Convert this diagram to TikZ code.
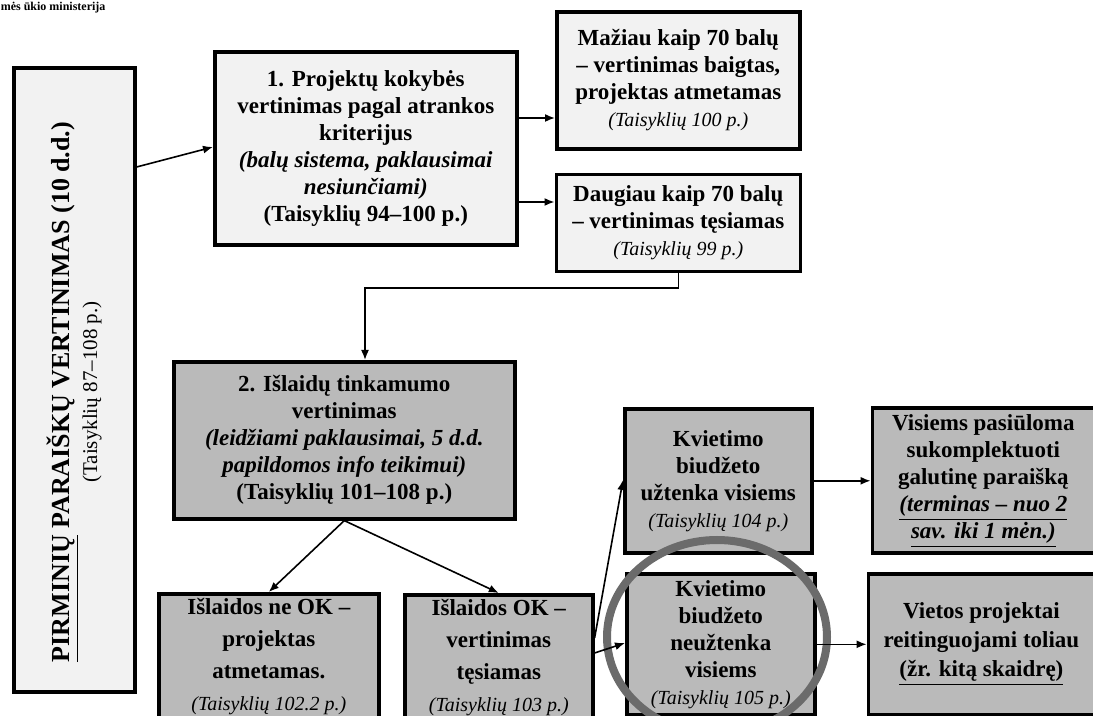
\documentclass[tikz,border=0pt]{standalone}
\usepackage{fontspec}
\setmainfont{Liberation Serif}
\usetikzlibrary{positioning,shapes.geometric,arrows.meta}
\newcommand{\ts}[1]{{\normalfont\itshape\fontsize{10}{12}\selectfont #1}}
\tikzset{
  lt/.style={rectangle, draw=black, line width=1.8pt, fill=black!5, align=center, inner sep=2pt, font=\bfseries\fontsize{11.5}{13.5}\selectfont},
  dk/.style={lt, fill=black!27},
  ring/.style={ellipse, draw=black!58, line width=4pt, minimum width=110pt, minimum height=97pt},
  node distance=11pt
}
\begin{document}
\begin{tikzpicture}[x=0.5pt, y=-0.5pt, thick, >={Latex[length=5pt,width=4pt]}]
	\path[use as bounding box, clip] (0,0) rectangle (1093,716);
	\node[anchor=north west, inner sep=0pt, font=\bfseries\fontsize{6}{7}\selectfont] (logo) at (0,1) {mės ūkio ministerija};
	\node[lt, anchor=north west, minimum width=60.5pt, minimum height=312pt] (main) at (12,66) {};
	\node[rotate=90, align=center] (mtext) at (74,392) {{\bfseries\fontsize{13}{14}\selectfont \underline{PIRMINIŲ} PARAIŠKŲ VERTINIMAS (10 d.d.)}\\[1pt] {\fontsize{10.5}{12}\selectfont (Taisyklių 87--108 p.)}};
	\node[lt, anchor=north west, minimum width=151pt, minimum height=96.5pt] (q1) at (213,50) {1. Projektų kokybės\\ vertinimas pagal atrankos\\ kriterijus\\ \textit{(balų sistema, paklausimai}\\ \textit{nesiunčiami)}\\ (Taisyklių 94--100 p.)};
	\node[lt, anchor=north west, minimum width=121.5pt, minimum height=68.5pt] (less) at (555,10) {Mažiau kaip 70 balų\\ -- vertinimas baigtas,\\ projektas atmetamas\\ \ts{(Taisyklių 100 p.)}};
	\node[lt, below=11pt of less, minimum width=122pt, minimum height=48.5pt] (more) {Daugiau kaip 70 balų\\ -- vertinimas tęsiamas\\ \ts{(Taisyklių 99 p.)}};
	\node[dk, anchor=north west, minimum width=170.5pt, minimum height=78.5pt] (q2) at (172,360) {2. Išlaidų tinkamumo\\ vertinimas\\ \textit{(leidžiami paklausimai, 5 d.d.}\\ \textit{papildomos info teikimui)}\\ (Taisyklių 101--108 p.)};
	\node[dk, anchor=north west, minimum width=110pt, minimum height=62pt] (no) at (157,592) {Išlaidos ne OK --\\[2.5pt] projektas\\[2.5pt] atmetamas.\\[2.5pt] \ts{(Taisyklių 102.2 p.)}};
	\node[dk, anchor=north west, minimum width=94pt, minimum height=62pt] (ok) at (403,593) {Išlaidos OK --\\[2.5pt] vertinimas\\[2.5pt] tęsiamas\\[2.5pt] \ts{(Taisyklių 103 p.)}};
	\node[dk, anchor=north west, minimum width=93.5pt, minimum height=72pt] (kv1) at (623,407) {Kvietimo\\ biudžeto\\ užtenka visiems\\ \ts{(Taisyklių 104 p.)}};
	\node[dk, anchor=north west, minimum width=94pt, minimum height=70.5pt] (kv2) at (625,572) {Kvietimo\\ biudžeto\\ neužtenka\\ visiems\\ \ts{(Taisyklių 105 p.)}};
	\node[dk, right=28.5pt of kv1, minimum width=111pt, minimum height=72.5pt] (all) {Visiems pasiūloma\\ sukomplektuoti\\ galutinę paraišką\\ \textit{\underline{(terminas -- nuo 2}}\\ \textit{\underline{sav. iki 1 mėn.)}}};
	\node[dk, right=25pt of kv2, minimum width=113pt, minimum height=70.5pt] (local) {Vietos projektai\\[1pt] reitinguojami toliau\\[1pt] \underline{(žr. kitą skaidrę)}};
	\node[ring] (hl) at (717,637) {};
	%
	\draw[->] (main.east |- 0,167) -- (q1.west |- 0,147);
	\draw[->] (q1.east |- 0,118) -- (less.west |- 0,118);
	\draw[->] (q1.east |- 0,202) -- (more.west |- 0,202);
	\draw[->] (more.south) |- (365,288) -- (q2.north -| 365,0);
	\draw[->] (q2.south) -- (no.north);
	\draw[->] (q2.south) -- (ok.north);
	\draw[->] (ok.east |- 0,638) -- (kv1.west |- 0,480);
	\draw[->] (ok.east |- 0,653) -- (kv2.west |- 0,643);
	\draw[->] (kv1.east) -- (all.west);
	\draw[->] (kv2.east) -- (local.west);
\end{tikzpicture}
\end{document}
